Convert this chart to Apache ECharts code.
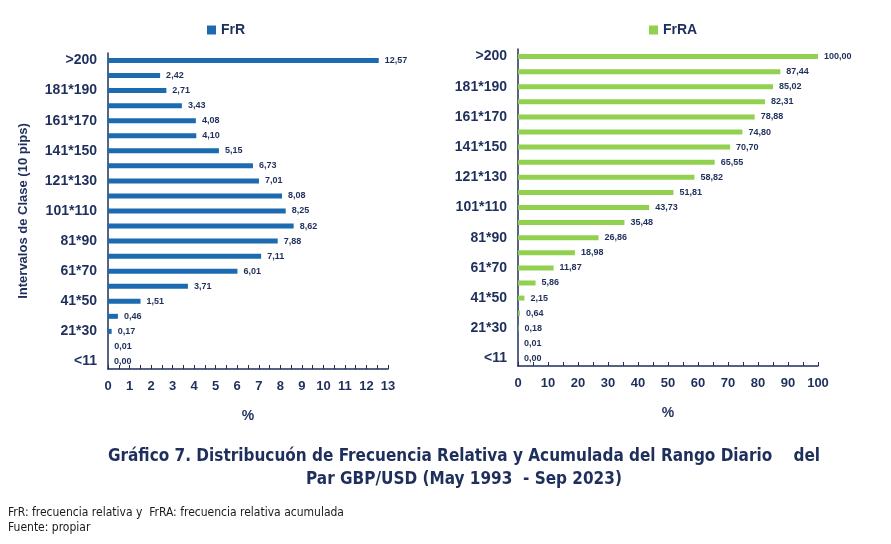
<!DOCTYPE html>
<html><head><meta charset="utf-8">
<script src="https://cdn.jsdelivr.net/npm/echarts@6/dist/echarts.min.js"></script>
<style>html,body{margin:0;padding:0;background:#fff}#c{width:891px;height:544px}</style>
</head><body><div id="c"></div>
<script>
const categories = ['<11','11*20','21*30','31*40','41*50','51*60','61*70','71*80','81*90','91*100','101*110','111*120','121*130','131*140','141*150','151*160','161*170','171*180','181*190','191*200','>200'];
const frR = [0.00,0.01,0.17,0.46,1.51,3.71,6.01,7.11,7.88,8.62,8.25,8.08,7.01,6.73,5.15,4.10,4.08,3.43,2.71,2.42,12.57];
const frRA = [0.00,0.01,0.18,0.64,2.15,5.86,11.87,18.98,26.86,35.48,43.73,51.81,58.82,65.55,70.70,74.80,78.88,82.31,85.02,87.44,100.00];

const navy = '#1F2F5C';
const fmt = p => p.value.toFixed(2).replace('.', ',');
const chart = echarts.init(document.getElementById('c'));
const catAxis = (gi, name) => ({
  type: 'category', gridIndex: gi, data: categories,
  axisLine: {lineStyle: {color: navy, width: 1.5}}, axisTick: {show: false},
  axisLabel: {interval: 1, color: navy, fontWeight: 'bold', fontSize: 14, fontFamily: 'Liberation Sans', margin: 11},
  name: name, nameLocation: 'middle', nameGap: 78, nameRotate: 90,
  nameTextStyle: {color: navy, fontWeight: 'bold', fontSize: 13, fontFamily: 'Liberation Sans'}
});
const valAxis = (gi, max, interval) => ({
  type: 'value', gridIndex: gi, min: 0, max: max, interval: interval,
  splitLine: {show: false},
  axisLine: {show: true, lineStyle: {color: navy, width: 1.5}},
  axisTick: {show: true, inside: true, length: 4, lineStyle: {color: navy}},
  minorTick: {show: true, splitNumber: 2, length: 4, lineStyle: {color: navy}},
  axisLabel: {color: navy, fontWeight: 'bold', fontSize: 13, fontFamily: 'Liberation Sans', margin: 11},
  name: '%', nameLocation: 'middle', nameGap: 40,
  nameTextStyle: {color: navy, fontWeight: 'bold', fontSize: 14, fontFamily: 'Liberation Sans'}
});
const lbl = {show: true, position: 'right', distance: 6, formatter: fmt, color: navy, fontWeight: 'bold', fontSize: 9, fontFamily: 'Liberation Sans'};
chart.setOption({
  animation: false,
  legend: [
    {data: ['FrR'], left: 202, top: 18, itemWidth: 9, itemHeight: 9, itemGap: 4, icon: 'rect',
     textStyle: {color: navy, fontWeight: 'bold', fontSize: 14, fontFamily: 'Liberation Sans'}},
    {data: ['FrRA'], left: 644, top: 18, itemWidth: 9, itemHeight: 9, icon: 'rect',
     textStyle: {color: navy, fontWeight: 'bold', fontSize: 14, fontFamily: 'Liberation Sans'}}
  ],
  grid: [
    {left: 108, width: 280, top: 53, height: 316},
    {left: 518, width: 300, top: 49, height: 317}
  ],
  xAxis: [valAxis(0, 13, 1), valAxis(1, 100, 10)],
  yAxis: [catAxis(0, 'Intervalos de Clase (10 pips)'), catAxis(1, '')],
  series: [
    {name: 'FrR', type: 'bar', xAxisIndex: 0, yAxisIndex: 0, data: frR, barWidth: 5, itemStyle: {color: '#1C6BB0'}, label: lbl},
    {name: 'FrRA', type: 'bar', xAxisIndex: 1, yAxisIndex: 1, data: frRA, barWidth: 5, itemStyle: {color: '#92D050'}, label: lbl}
  ],
  graphic: [
    {type: 'text', x: 464, y: 448, style: {
      text: 'Gráfico 7. Distribucuón de Frecuencia Relativa y Acumulada del Rango Diario    del',
      align: 'center', fill: navy, font: 'bold 17px "DejaVu Sans Condensed", sans-serif'}},
    {type: 'text', x: 464, y: 471, style: {
      text: 'Par GBP/USD (May 1993  - Sep 2023)',
      align: 'center', fill: navy, font: 'bold 17px "DejaVu Sans Condensed", sans-serif'}},
    {type: 'text', x: 8, y: 505, style: {
      text: 'FrR: frecuencia relativa y  FrRA: frecuencia relativa acumulada\nFuente: propiar',
      fill: '#1a1a1a', font: '12px "Liberation Sans Narrow", "DejaVu Sans Condensed", sans-serif', lineHeight: 15}}
  ]
});
</script></body></html>
